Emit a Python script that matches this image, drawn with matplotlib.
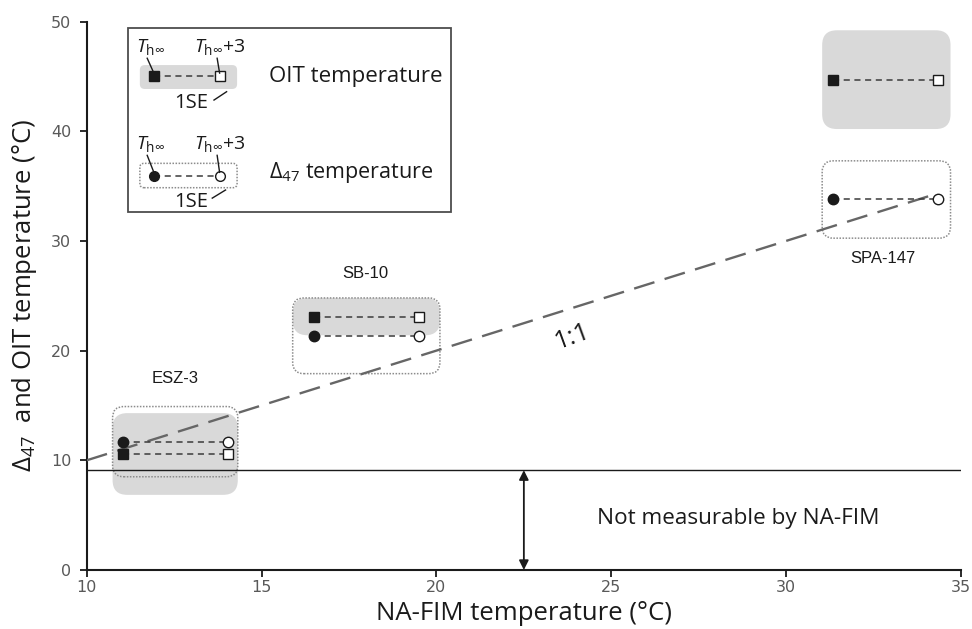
import matplotlib
matplotlib.use('Agg')
import matplotlib.pyplot as plt
from matplotlib.patches import FancyBboxPatch, Rectangle

# ---- data ----
samples = ['ESZ-3', 'SB-10', 'SPA-147']
t_hinf = [11.05, 16.5, 31.35]          # NA-FIM T_h-inf
t_hinf_plus3 = [14.05, 19.5, 34.35]    # NA-FIM T_h-inf + 3
oit_temp = [10.55, 23.1, 44.7]         # OIT temperature
d47_temp = [11.7, 21.3, 33.8]          # clumped isotope temperature
oit_se_lo = [6.85, 21.4, 40.2]
oit_se_hi = [14.3, 24.8, 49.2]
d47_se_lo = [8.5, 17.9, 30.25]
d47_se_hi = [14.9, 24.8, 37.3]
se_x_lo = [10.74, 15.89, 31.03]
se_x_hi = [14.32, 20.1, 34.7]
limit_temp = 9.1
one_to_one = [10, 34.3]
xticks = [10, 15, 20, 25, 30, 35]
yticks = [0, 10, 20, 30, 40, 50]

plt.rcParams['font.family'] = ['Open Sans', 'DejaVu Sans']
plt.rcParams['mathtext.fontset'] = 'custom'
plt.rcParams['mathtext.rm'] = 'Open Sans'
plt.rcParams['mathtext.it'] = 'Open Sans:italic'
plt.rcParams['mathtext.bf'] = 'Open Sans:bold'

W, H = 972, 629
fig = plt.figure(figsize=(W / 100, H / 100), dpi=100)
ax_pos = [0.0892, 0.0938, 0.8995, 0.872]
ax = fig.add_axes(ax_pos)
ax.set_xlim(10, 35)
ax.set_ylim(0, 50)

px_x = ax_pos[2] * W / 25.0
px_y = ax_pos[3] * H / 50.0
aspect = px_x / px_y

TXT = '#1a1a1a'


def rbox(x0, x1, y0, y1, r, **kw):
    p = FancyBboxPatch((x0, y0), x1 - x0, y1 - y0,
                       boxstyle=f'round,pad=0,rounding_size={r}',
                       mutation_aspect=aspect, **kw)
    ax.add_patch(p)
    return p


# SE boxes
for i in range(len(samples)):
    rbox(se_x_lo[i], se_x_hi[i], oit_se_lo[i], oit_se_hi[i], 0.42,
         facecolor='#d9d9d9', edgecolor='none', zorder=1)
for i in range(len(samples)):
    rbox(se_x_lo[i], se_x_hi[i], d47_se_lo[i], d47_se_hi[i], 0.32,
         facecolor='none', edgecolor='#8c8c8c', linestyle=(0, (1, 1)),
         linewidth=1.1, zorder=2)

# 1:1 line
ax.plot(one_to_one, one_to_one, color='#666666', lw=1.7, dashes=(9, 4.5), zorder=3)
ax.text(23.88, 21.27, '1:1', fontsize=18.5, rotation=20, ha='center', va='center',
        color=TXT, zorder=3, rotation_mode='anchor')

# detection limit
ax.axhline(limit_temp, color='#1a1a1a', lw=1.0, zorder=3)
ax.annotate('', xy=(22.5, 0), xytext=(22.5, limit_temp),
            arrowprops=dict(arrowstyle='<|-|>', color='#1a1a1a', lw=1.3,
                            mutation_scale=14, shrinkA=0, shrinkB=0), zorder=4)
ax.text(28.64, 4.71, 'Not measurable by NA-FIM', fontsize=16.2, ha='center',
        va='center', color=TXT)

# data
for i in range(len(samples)):
    ax.plot([t_hinf[i], t_hinf_plus3[i]], [oit_temp[i], oit_temp[i]],
            color='#3a3a3a', lw=1.1, dashes=(4, 3), zorder=4)
    ax.plot([t_hinf[i], t_hinf_plus3[i]], [d47_temp[i], d47_temp[i]],
            color='#3a3a3a', lw=1.1, dashes=(4, 3), zorder=4)
ax.plot(t_hinf, oit_temp, 's', ms=7, mfc='#1a1a1a', mec='#1a1a1a', zorder=5)
ax.plot(t_hinf_plus3, oit_temp, 's', ms=7, mfc='white', mec='#1a1a1a', mew=1.0, zorder=5)
ax.plot(t_hinf, d47_temp, 'o', ms=7.5, mfc='#1a1a1a', mec='#1a1a1a', zorder=5)
ax.plot(t_hinf_plus3, d47_temp, 'o', ms=7.5, mfc='white', mec='#1a1a1a', mew=1.0, zorder=5)

# sample labels
lab_pos = [(12.54, 17.47), (17.97, 27.05), (32.78, 28.41)]
for name, (lx, ly) in zip(samples, lab_pos):
    ax.text(lx, ly, name, fontsize=12, family='Liberation Sans', ha='center',
            va='center', color=TXT)

# ---- legend box ----
ax.add_patch(Rectangle((11.18, 32.66), 20.43 - 11.18, 49.43 - 32.66,
                       facecolor='white', edgecolor='#4d4d4d', lw=1.3, zorder=6))
LZ = 7
rbox(11.52, 14.3, 43.85, 46.03, 0.14, facecolor='#d9d9d9', edgecolor='none', zorder=LZ)
rbox(11.52, 14.3, 34.85, 37.07, 0.12, facecolor='none', edgecolor='#8c8c8c',
     linestyle=(0, (1, 1)), linewidth=1.1, zorder=LZ)
for yy, mk in [(45.0, 's'), (35.95, 'o')]:
    ax.plot([11.92, 13.8], [yy, yy], color='#3a3a3a', lw=1.1, dashes=(4, 3), zorder=LZ + 1)
    ax.plot([11.92], [yy], mk, ms=7, mfc='#1a1a1a', mec='#1a1a1a', zorder=LZ + 2)
    ax.plot([13.8], [yy], mk, ms=7, mfc='white', mec='#1a1a1a', mew=1.0, zorder=LZ + 2)

Tlab = r'$\mathit{T}_{\mathregular{h\infty}}$'
for base_y, dy_line in [(47.2, 45.0), (38.35, 35.95)]:
    ax.text(11.42, base_y, Tlab, fontsize=14, ha='left', va='baseline', color=TXT, zorder=LZ + 3)
    ax.text(13.08, base_y, Tlab + '+3', fontsize=14, ha='left', va='baseline', color=TXT, zorder=LZ + 3)
    ax.plot([11.73, 11.92], [base_y - 0.55, dy_line + 0.3], color=TXT, lw=1.0, zorder=LZ + 3)
    ax.plot([13.73, 13.8], [base_y - 0.55, dy_line + 0.3], color=TXT, lw=1.0, zorder=LZ + 3)
for base_y, (lx0, ly0, lx1, ly1) in [(42.1, (13.64, 42.84, 14.0, 43.6)),
                                     (33.1, (13.59, 33.9, 13.97, 34.64))]:
    ax.text(13.0, base_y, '1SE', fontsize=14.5, ha='center', va='baseline', color=TXT, zorder=LZ + 3)
    ax.plot([lx0, lx1], [ly0, ly1], color=TXT, lw=1.0, zorder=LZ + 3)

ax.text(15.21, 45.0, 'OIT temperature', fontsize=16, ha='left', va='center', color=TXT, zorder=LZ + 3)
ax.text(15.2, 36.2, 'Δ$_{47}$ temperature', fontsize=15.5, ha='left', va='center', color=TXT, zorder=LZ + 3)

# ---- axes styling ----
for s in ['top', 'right']:
    ax.spines[s].set_visible(False)
for s in ['left', 'bottom']:
    ax.spines[s].set_linewidth(1.5)
    ax.spines[s].set_color('#1a1a1a')
ax.set_xticks(xticks)
ax.set_yticks(yticks)
ax.tick_params(direction='out', length=5, width=1.3, color='#1a1a1a',
               labelsize=11.5, labelcolor='#595959')
ax.tick_params(axis='x', pad=2)
ax.tick_params(axis='y', pad=6)
for lbl in ax.get_xticklabels() + ax.get_yticklabels():
    lbl.set_family('DejaVu Sans')

ax.set_xlabel('NA-FIM temperature (°C)', fontsize=18.5, color=TXT, va='center')
ax.xaxis.set_label_coords(0.5, -0.080)
ax.set_ylabel(r'Δ$_{\mathit{47}}$  and OIT temperature (°C)', fontsize=18.5, color=TXT,
              va='center')
ax.yaxis.set_label_coords(-0.0706, 0.5)

fig.savefig('out.png', dpi=100)
